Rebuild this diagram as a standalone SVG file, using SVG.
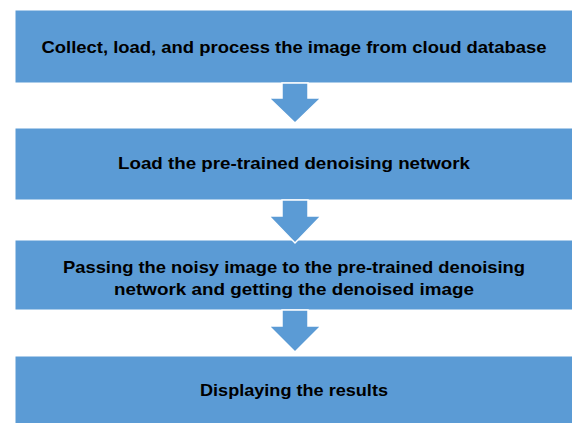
<svg xmlns="http://www.w3.org/2000/svg" width="572" height="423" viewBox="0 0 572 423">
<style>
.box{fill:#5b9bd5;stroke:#ffffff;stroke-width:1}
.arr{fill:#5b9bd5;stroke:#ffffff;stroke-width:1.5}
.t{font-family:"Liberation Sans","Open Sans",Arial,sans-serif;font-weight:bold;font-size:17px;fill:#000000;text-anchor:middle}
</style>
<rect width="572" height="423" fill="#ffffff"/>
<g id="node1"><rect class="box" x="15" y="10" width="560" height="73"/><text class="t" x="294" y="53" textLength="505" lengthAdjust="spacingAndGlyphs">Collect, load, and process the image from cloud database</text></g>
<g id="node2"><rect class="box" x="15" y="128" width="560" height="72"/><text class="t" x="294" y="169" textLength="352" lengthAdjust="spacingAndGlyphs">Load the pre-trained denoising network</text></g>
<g id="node3"><rect class="box" x="15" y="240" width="560" height="70"/><text class="t" x="294" y="273" textLength="462" lengthAdjust="spacingAndGlyphs">Passing the noisy image to the pre-trained denoising</text><text class="t" x="294" y="295" textLength="360" lengthAdjust="spacingAndGlyphs">network and getting the denoised image</text></g>
<g id="node4"><rect class="box" x="15" y="356" width="560" height="70"/><text class="t" x="294" y="396" textLength="188" lengthAdjust="spacingAndGlyphs">Displaying the results</text></g>
<g id="connectors">
<polygon class="arr" points="282,83 308,83 308,98 321,98 295,123 269,98 282,98"/>
<polygon class="arr" points="282,200 308,200 308,216 321,216 295,243 269,216 282,216"/>
<polygon class="arr" points="282,310 308,310 308,326 321,326 295,352 269,326 282,326"/>
</g>
</svg>
